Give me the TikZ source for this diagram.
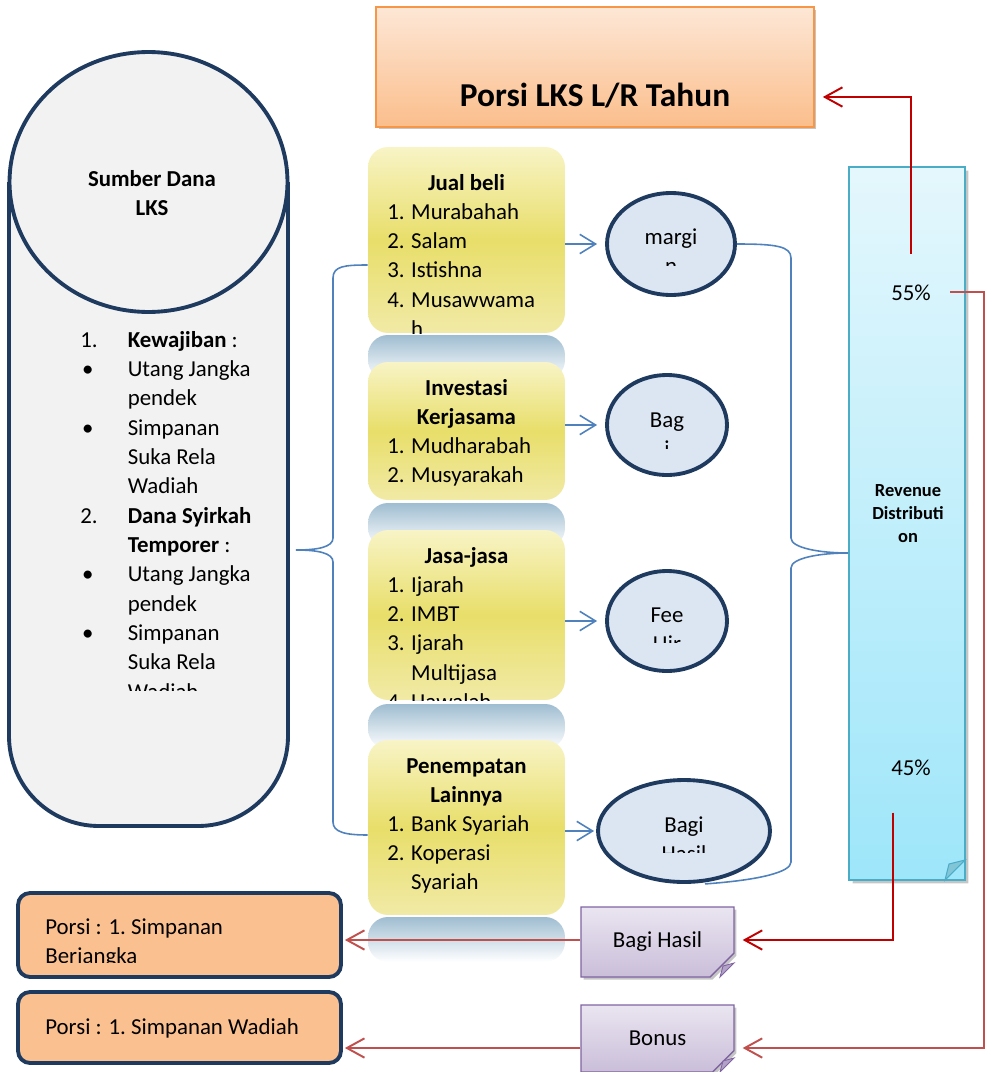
\documentclass[tikz,border=0pt]{standalone}
\usepackage{fontspec}
\setmainfont{Carlito}
\usepackage{tikz}
\usetikzlibrary{arrows.meta,positioning,shapes.geometric,shapes.misc,shadows}
\definecolor{navy}{HTML}{1F3A5F}
\definecolor{cylfill}{HTML}{F2F2F2}
\definecolor{ellfill}{HTML}{DCE6F2}
\definecolor{ylw}{HTML}{E8DE6A}
\definecolor{ylwtop}{HTML}{F8F4C6}
\definecolor{ylwbot}{HTML}{F1EAA6}
\definecolor{gryblue}{HTML}{9FBDD1}
\definecolor{orgfill}{HTML}{FAC090}
\definecolor{orgtop}{HTML}{FDE7D6}
\definecolor{orgbot}{HTML}{FBBE8C}
\definecolor{orgedge}{HTML}{F79646}
\definecolor{cyntop}{HTML}{E4F7FC}
\definecolor{cynbot}{HTML}{9EE6FA}
\definecolor{cynedge}{HTML}{4BACC6}
\definecolor{purtop}{HTML}{EAE5F1}
\definecolor{purbot}{HTML}{CABED9}
\definecolor{puredge}{HTML}{8064A2}
\definecolor{linkblue}{HTML}{4F81BD}
\definecolor{darkred}{HTML}{C00000}
\definecolor{softred}{HTML}{C0504D}

\newcommand\txtbody{\fontsize{13pt}{16.7pt}\selectfont}
\newcommand\txtbold{\fontsize{13pt}{16.7pt}\selectfont\bfseries}
\newcommand\txtsmall{\fontsize{10.5pt}{13.3pt}\selectfont\bfseries}
\newcommand\numcell[2][13.6pt]{\makebox[#1][l]{#2}}

\tikzset{
  resultbox/.style={rectangle,draw=orgedge,line width=1pt,top color=orgtop,bottom color=orgbot,
    minimum width=8.76cm,minimum height=2.4cm,inner sep=0pt,text height=1.7cm,text depth=0.1cm,
    font=\fontsize{19pt}{23pt}\selectfont\bfseries,
    drop shadow={shadow xshift=0.05cm,shadow yshift=-0.05cm,fill=black!45}},
  cylline/.style={draw=navy,line width=2.2pt,fill=cylfill},
  listbox/.style={rectangle,rounded corners=0.4cm,top color=ylwtop,bottom color=ylwbot,middle color=ylw,
    minimum width=3.94cm,inner sep=0pt},
  backbox/.style={rectangle,rounded corners=0.4cm,top color=gryblue,bottom color=white,
    minimum width=3.94cm,minimum height=0.9cm,inner sep=0pt},
  kind/.style={ellipse,draw=navy,line width=2.2pt,fill=ellfill,inner sep=0pt},
  txt/.style={inner sep=0pt,font=\txtbody},
  porsibox/.style={rectangle,rounded corners=0.24cm,draw=navy,line width=2.2pt,fill=orgfill,
    minimum width=6.46cm,inner sep=0pt},
  sharenote/.style={chamfered rectangle,chamfered rectangle corners=south east,
    chamfered rectangle xsep=0.28cm,chamfered rectangle ysep=0.28cm,draw=puredge,line width=0.8pt,
    top color=purtop,bottom color=purbot,minimum width=3.06cm,inner sep=0pt,font=\txtbody,
    drop shadow={shadow xshift=0.05cm,shadow yshift=-0.05cm,fill=black!45}},
  link/.style={-{Straight Barb[length=9pt,width=11pt]},linkblue,line width=0.9pt},
  bracket/.style={linkblue,line width=0.9pt},
  payout/.style={-{Straight Barb[length=10pt,width=11pt]},darkred,line width=1.1pt},
  payoutsoft/.style={-{Straight Barb[length=10pt,width=11pt]},softred,line width=1.1pt},
}

\begin{document}
\begin{tikzpicture}[x=0.02cm,y=-0.02cm]
\useasboundingbox (0,0) rectangle (998,1072);

% result on top
\node[resultbox] (lr) at (595,67) {Porsi LKS L/R Tahun};

% source of funds
\draw[cylline,rounded corners=1.8cm] (9,182) -- (9,826) -- (288,826) -- (288,182);
\node[ellipse,cylline,minimum width=5.56cm,minimum height=5.2cm,inner sep=0pt] (src) at (148.5,182) {};
\node[txt,anchor=base,font=\txtbold] (srctitle) at (152,186)
  {\begin{tabular}[t]{@{}c@{}}Sumber Dana\\LKS\end{tabular}};
\begin{scope}
\clip (9,300) rectangle (288,690);
\node[txt,anchor=base west] (srclist) at (80,347) {\begin{tabular}[t]{@{}l@{}l@{}}
\numcell[27pt]{1.} & \textbf{Kewajiban} :\\
\numcell[27pt]{\hspace{1pt}\textbullet} & Utang Jangka\\
 & pendek\\
\numcell[27pt]{\hspace{1pt}\textbullet} & Simpanan\\
 & Suka Rela\\
 & Wadiah\\
\numcell[27pt]{2.} & \textbf{Dana Syirkah}\\
 & \textbf{Temporer} :\\
\numcell[27pt]{\hspace{1pt}\textbullet} & Utang Jangka\\
 & pendek\\
\numcell[27pt]{\hspace{1pt}\textbullet} & Simpanan\\
 & Suka Rela\\
 & Wadiah
\end{tabular}};
\end{scope}

% kinds of placement
\node[backbox] (back2) at (466.5,357.5) {};
\node[backbox] (back3) at (466.5,525.5) {};
\node[backbox] (back4) at (466.5,726.5) {};
\node[backbox] (back5) at (466.5,939.5) {};

\node[listbox,minimum height=3.72cm] (box1) at (466.5,240) {};
\node[txt,anchor=base,font=\txtbold] (box1t) at (466.5,190) {Jual beli};
\begin{scope}
\clip (368,200) rectangle (565,333);
\node[txt,anchor=base west] (box1l) at (387,219) {\begin{tabular}[t]{@{}l@{}l@{}}
\numcell{1.} & Murabahah\\
\numcell{2.} & Salam\\
\numcell{3.} & Istishna\\
\numcell{4.} & Musawwama\\
 & h
\end{tabular}};
\end{scope}

\node[listbox,minimum height=2.76cm] (box2) at (466.5,431) {};
\node[txt,anchor=base,font=\txtbold] (box2t) at (466.5,395)
  {\begin{tabular}[t]{@{}c@{}}Investasi\\Kerjasama\end{tabular}};
\node[txt,anchor=base west] (box2l) at (387,453) {\begin{tabular}[t]{@{}l@{}l@{}}
\numcell{1.} & Mudharabah\\
\numcell{2.} & Musyarakah
\end{tabular}};

\node[listbox,minimum height=3.4cm] (box3) at (466.5,615) {};
\node[txt,anchor=base,font=\txtbold] (box3t) at (466.5,563) {Jasa-jasa};
\begin{scope}
\clip (368,570) rectangle (565,700);
\node[txt,anchor=base west] (box3l) at (387,592) {\begin{tabular}[t]{@{}l@{}l@{}}
\numcell{1.} & Ijarah\\
\numcell{2.} & IMBT\\
\numcell{3.} & Ijarah\\
 & Multijasa\\
\numcell{4.} & Hawalah
\end{tabular}};
\end{scope}

\node[listbox,minimum height=3.5cm] (box4) at (466.5,827.5) {};
\node[txt,anchor=base,font=\txtbold] (box4t) at (466.5,773)
  {\begin{tabular}[t]{@{}c@{}}Penempatan\\Lainnya\end{tabular}};
\node[txt,anchor=base west] (box4l) at (387,831) {\begin{tabular}[t]{@{}l@{}l@{}}
\numcell{1.} & Bank Syariah\\
\numcell{2.} & Koperasi\\
 & Syariah
\end{tabular}};

% income kinds
\node[kind,minimum width=2.56cm,minimum height=2.04cm] (e1) at (671,244) {};
\begin{scope}
\clip (600,190) rectangle (745,265);
\node[txt,anchor=base] (e1t) at (671,244) {\begin{tabular}[t]{@{}c@{}}margi\\n\end{tabular}};
\end{scope}
\node[kind,minimum width=2.4cm,minimum height=2.0cm] (e2) at (667,425) {};
\begin{scope}
\clip (600,380) rectangle (740,448);
\node[txt,anchor=base] (e2t) at (667,427) {\begin{tabular}[t]{@{}c@{}}Bag\\i\end{tabular}};
\end{scope}
\node[kind,minimum width=2.4cm,minimum height=2.0cm] (e3) at (667,621) {};
\begin{scope}
\clip (600,580) rectangle (740,642);
\node[txt,anchor=base] (e3t) at (667,622) {\begin{tabular}[t]{@{}c@{}}Fee\\Ujr\end{tabular}};
\end{scope}
\node[kind,minimum width=3.44cm,minimum height=2.04cm] (e4) at (684,831) {};
\begin{scope}
\clip (600,790) rectangle (770,852);
\node[txt,anchor=base] (e4t) at (684,832) {\begin{tabular}[t]{@{}c@{}}Bagi\\Hasil\end{tabular}};
\end{scope}

\draw[link] (box1.east |- e1.west) -- ([xshift=-0.16cm]e1.west);
\draw[link] (box2.east |- e2.west) -- ([xshift=-0.16cm]e2.west);
\draw[link] (box3.east |- e3.west) -- ([xshift=-0.16cm]e3.west);
\draw[link] (box4.east |- e4.west) -- ([xshift=-0.04cm]e4.west);

% left bracket
\coordinate (srcout) at (296,550);
\coordinate (b1in) at ([yshift=-0.5cm]box1.west);
\coordinate (b4in) at ([yshift=-0.15cm]box4.west);
\draw[bracket] (b1in) .. controls (345,265) and (333,266) .. (333,278) -- (333,538)
  .. controls (333,547) and (318,550) .. (srcout)
  .. controls (318,550) and (333,553) .. (333,562) -- (333,822)
  .. controls (333,832) and (345,835) .. (b4in);

% revenue distribution
\node[chamfered rectangle,chamfered rectangle corners=south east,chamfered rectangle xsep=0.4cm,
  chamfered rectangle ysep=0.4cm,draw=cynedge,line width=1pt,top color=cyntop,bottom color=cynbot,
  minimum width=2.32cm,minimum height=14.26cm,inner sep=0pt,
  drop shadow={shadow xshift=0.07cm,shadow yshift=-0.07cm,fill=black!45}] (rev) at (907,523.5) {};
\fill[cynedge!70,draw=cynedge,line width=0.6pt] (945,880) -- (965,860) -- (949,864) -- cycle;
\node[txt,anchor=base] (p55) at (911,300) {55\%};
\node[txt,anchor=base,font=\txtsmall] (revtxt) at (908,496)
  {\begin{tabular}[t]{@{}c@{}}Revenue\\Distributi\\on\end{tabular}};
\node[txt,anchor=base] (p45) at (911,775) {45\%};

% right bracket
\coordinate (revin) at ([yshift=-0.59cm]rev.west);
\coordinate (e4out) at ([xshift=0.42cm]e4.south);
\draw[bracket] (e1.east) .. controls (775,244) and (791,246) .. (791,258) -- (791,538)
  .. controls (791,548) and (820,553) .. (revin)
  .. controls (820,553) and (791,558) .. (791,568) -- (791,862)
  .. controls (791,872) and (760,880) .. (e4out);

% shares
\node[sharenote,minimum height=1.4cm] (bh) at (657.5,942) {Bagi Hasil};
\fill[puredge!60,draw=puredge,line width=0.5pt] (720,977) -- (734,963) -- (723,966) -- cycle;
\node[sharenote,minimum height=1.34cm] (bonus) at (657.5,1038.5) {Bonus};
\fill[puredge!60,draw=puredge,line width=0.5pt] (720,1072) -- (734,1058) -- (723,1061) -- cycle;

\node[porsibox,minimum height=1.68cm] (pa) at (179.5,935) {};
\begin{scope}
\clip (20,895) rectangle (340,962);
\node[txt,anchor=base west] (pat) at (45,934)
  {\begin{tabular}[t]{@{}l@{}}Porsi : 1.\ Simpanan\\Berjangka\end{tabular}};
\end{scope}
\node[porsibox,minimum height=1.42cm] (pb) at (179.5,1027.5) {};
\node[txt,anchor=base west] (pbt) at (45,1034) {Porsi : 1.\ Simpanan Wadiah};

% payouts
\draw[payout] ([yshift=0.6cm]p55.north) |- ([shift={(0.16cm,-0.6cm)}]lr.east);
\draw[payoutsoft] ([xshift=0.38cm]p55.east) -- ++(0.68cm,0) |- ([shift={(0.16cm,-0.19cm)}]bonus.east);
\draw[payout] ([shift={(-0.36cm,-0.74cm)}]p45.south) |- ([shift={(0.16cm,0.04cm)}]bh.east);
\coordinate (bhout) at ([yshift=0.04cm]bh.west);
\draw[payoutsoft] (bhout) -- ([xshift=0.04cm]bhout -| pa.east);
\coordinate (bonusout) at ([yshift=-0.19cm]bonus.west);
\draw[payoutsoft] (bonusout) -- ([xshift=0.04cm]bonusout -| pb.east);
\end{tikzpicture}
\end{document}
